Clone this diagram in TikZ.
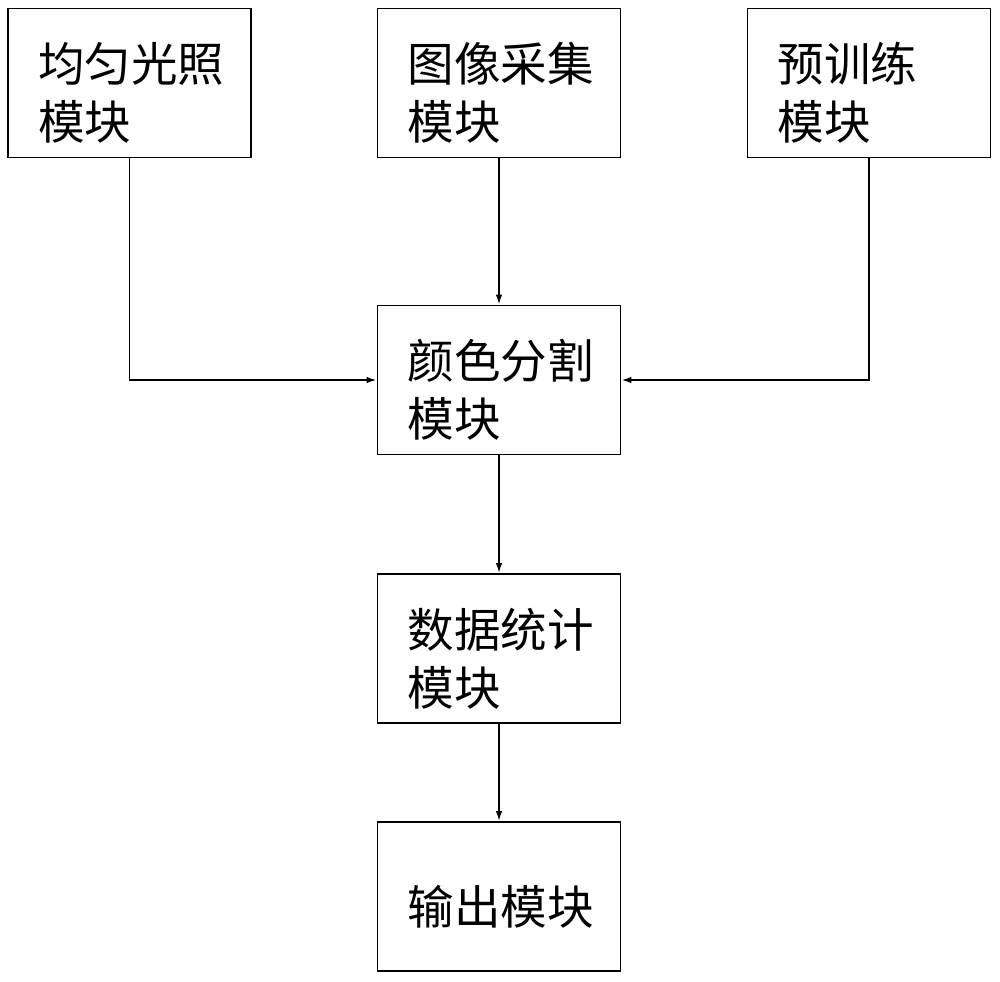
\documentclass[tikz,border=0pt]{standalone}
\usepackage{fontspec}
\setmainfont{Noto Sans CJK SC}
\usetikzlibrary{arrows.meta,positioning}

\tikzset{
  boxtext/.style={text width=3.66cm, align=left, inner sep=0pt,
    font=\fontsize{26.5}{33}\selectfont},
  modbox/.style={draw, line width=1pt, minimum width=4.86cm, minimum height=2.98cm,
    inner sep=0pt, label={[boxtext, yshift=-0.2cm]center:#1}},
  flow/.style={line width=1pt, -{Latex[length=2mm,width=1.3mm]}}
}

\begin{document}
\begin{tikzpicture}[x=0.02cm, y=-0.02cm]
\useasboundingbox (0,0) rectangle (1000,981);

% Draw the module boxes
\node[modbox={均匀光照\\模块}] (light) at (129.5,83) {};
\node[modbox={图像采集\\模块}] (capture) at (499,83) {};
\node[modbox={预训练\\模块}] (pretrain) at (869,83) {};
\node[modbox={颜色分割\\模块}] (segment) at (499,380) {};
\node[modbox={数据统计\\模块}] (stats) at (499,648.5) {};
\node[modbox={输出模块}] (output) at (499,896.5) {};

% Draw the connecting arrows
\draw[flow] (light.south) |- (segment.west);
\draw[flow] (capture.south) -- (segment.north);
\draw[flow] (pretrain.south) |- (segment.east);
\draw[flow] (segment.south) -- (stats.north);
\draw[flow] (stats.south) -- (output.north);

\end{tikzpicture}
\end{document}
